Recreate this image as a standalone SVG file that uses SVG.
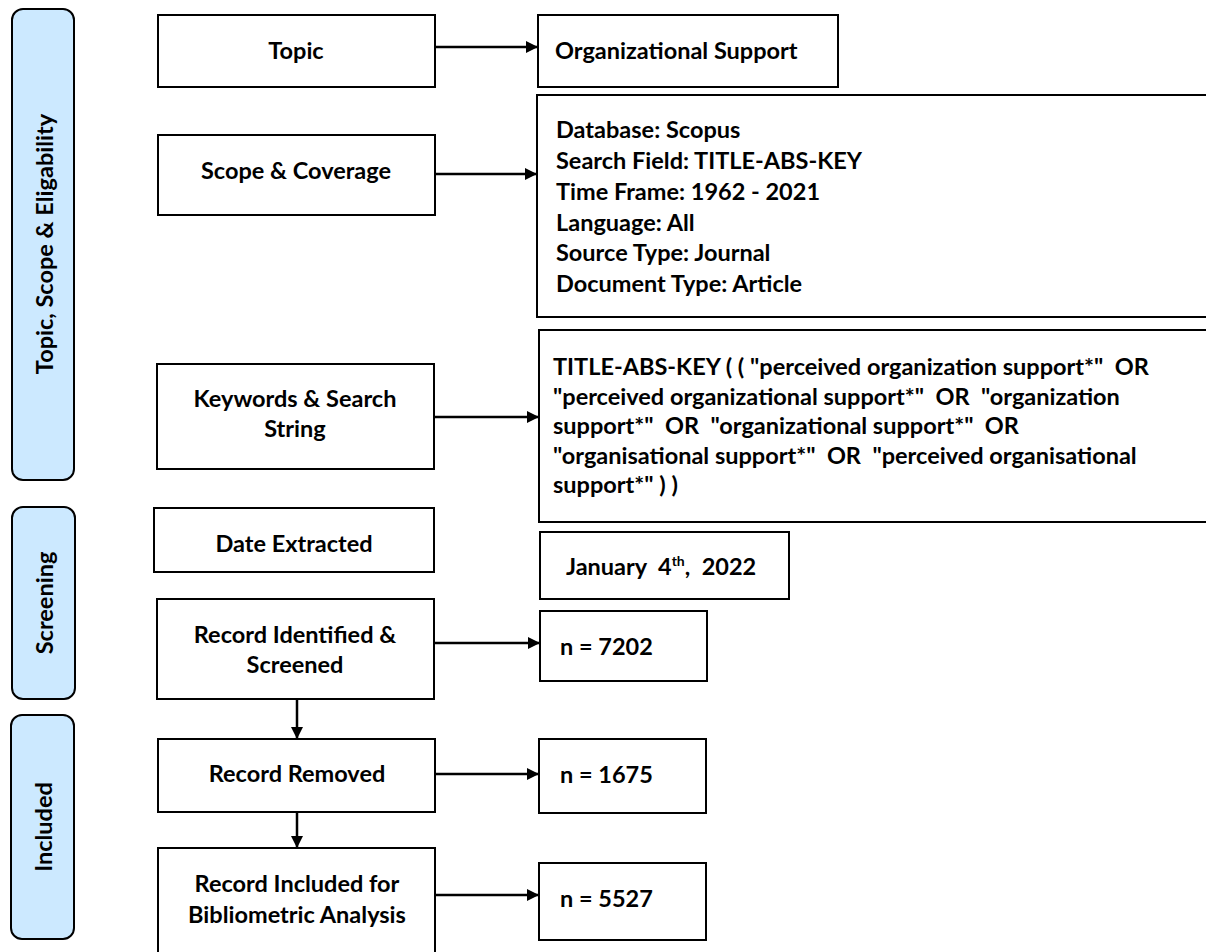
<svg xmlns="http://www.w3.org/2000/svg" width="1206" height="952" viewBox="0 0 1206 952">
<defs>
<style>
.band{fill:#cce9ff;stroke:#000;stroke-width:2}
.box{fill:#fff;stroke:#000;stroke-width:2}
.t{font-family:Lato,"Open Sans","Liberation Sans",sans-serif;font-weight:bold;font-size:23.5px;fill:#000}
.c{text-anchor:middle}
.conn{stroke:#000;stroke-width:2.5;fill:none}
</style>
<marker id="ah" viewBox="0 0 12 12" refX="12" refY="6" markerWidth="12" markerHeight="12" markerUnits="userSpaceOnUse" orient="auto"><path d="M0,0 L12,6 L0,12 Z" fill="#000"/></marker>
</defs>
<rect width="1206" height="952" fill="#fff"/>
<g id="band-topic"><rect class="band" x="12" y="9" width="62" height="471" rx="11"/><text class="t c" transform="translate(53,244) rotate(-90)">Topic, Scope &amp; Eligability</text></g>
<g id="band-screening"><rect class="band" x="12" y="507" width="63" height="192" rx="11"/><text class="t c" transform="translate(53,603) rotate(-90)">Screening</text></g>
<g id="band-included"><rect class="band" x="11" y="715" width="63" height="224" rx="11"/><text class="t c" transform="translate(52,827) rotate(-90)">Included</text></g>

<g id="n-topic"><rect class="box" x="158" y="15" width="277" height="72"/><text class="t c" x="296" y="59">Topic</text></g>
<g id="n-org"><rect class="box" x="538" y="15" width="300" height="72"/><text class="t" x="555" y="59">Organizational Support</text></g>
<g id="n-scope"><rect class="box" x="158" y="135" width="277" height="80"/><text class="t c" x="296" y="179">Scope &amp; Coverage</text></g>
<g id="n-scope-detail"><rect class="box" x="537" y="95" width="680" height="222"/>
<text class="t" x="556" y="138">Database: Scopus</text>
<text class="t" x="556" y="169">Search Field: TITLE-ABS-KEY</text>
<text class="t" x="556" y="200">Time Frame: 1962 - 2021</text>
<text class="t" x="556" y="231">Language: All</text>
<text class="t" x="556" y="261">Source Type: Journal</text>
<text class="t" x="556" y="292">Document Type: Article</text></g>
<g id="n-keywords"><rect class="box" x="157" y="364" width="277" height="105"/><text class="t c" x="295" y="407">Keywords &amp; Search</text><text class="t c" x="295" y="437">String</text></g>
<g id="n-string"><rect class="box" x="539" y="330" width="680" height="192"/>
<text class="t" x="553" y="375" xml:space="preserve">TITLE-ABS-KEY ( ( "perceived organization support*"  OR</text>
<text class="t" x="553" y="405" xml:space="preserve">"perceived organizational support*"  OR  "organization</text>
<text class="t" x="553" y="434" xml:space="preserve">support*"  OR  "organizational support*"  OR</text>
<text class="t" x="553" y="464" xml:space="preserve">"organisational support*"  OR  "perceived organisational</text>
<text class="t" x="553" y="493" xml:space="preserve">support*" ) )</text></g>
<g id="n-date"><rect class="box" x="154" y="508" width="280" height="64"/><text class="t c" x="294" y="552">Date Extracted</text></g>
<g id="n-jan"><rect class="box" x="540" y="532" width="249" height="67"/><text class="t" x="566" y="575" xml:space="preserve">January  4<tspan font-size="14" dy="-9">th</tspan><tspan dy="9">,  2022</tspan></text></g>
<g id="n-identified"><rect class="box" x="157" y="599" width="277" height="100"/><text class="t c" x="295" y="643">Record Identified &amp;</text><text class="t c" x="295" y="673">Screened</text></g>
<g id="n-7202"><rect class="box" x="540" y="611" width="167" height="70"/><text class="t" x="560" y="655">n = 7202</text></g>
<g id="n-removed"><rect class="box" x="158" y="739" width="277" height="73"/><text class="t c" x="297" y="782">Record Removed</text></g>
<g id="n-1675"><rect class="box" x="539" y="739" width="167" height="74"/><text class="t" x="560" y="783">n = 1675</text></g>
<g id="n-included"><rect class="box" x="158" y="848" width="277" height="110"/><text class="t c" x="297" y="892">Record Included for</text><text class="t c" x="297" y="923">Bibliometric Analysis</text></g>
<g id="n-5527"><rect class="box" x="539" y="863" width="167" height="77"/><text class="t" x="560" y="907">n = 5527</text></g>

<g id="connectors">
<line class="conn" x1="435" y1="47" x2="538" y2="47" marker-end="url(#ah)"/>
<line class="conn" x1="435" y1="174" x2="537" y2="174" marker-end="url(#ah)"/>
<line class="conn" x1="434" y1="417" x2="539" y2="417" marker-end="url(#ah)"/>
<line class="conn" x1="434" y1="643" x2="540" y2="643" marker-end="url(#ah)"/>
<line class="conn" x1="435" y1="774" x2="539" y2="774" marker-end="url(#ah)"/>
<line class="conn" x1="434" y1="895" x2="539" y2="895" marker-end="url(#ah)"/>
<line class="conn" x1="297" y1="699" x2="297" y2="739" marker-end="url(#ah)"/>
<line class="conn" x1="297" y1="812" x2="297" y2="848" marker-end="url(#ah)"/>
</g>
</svg>
